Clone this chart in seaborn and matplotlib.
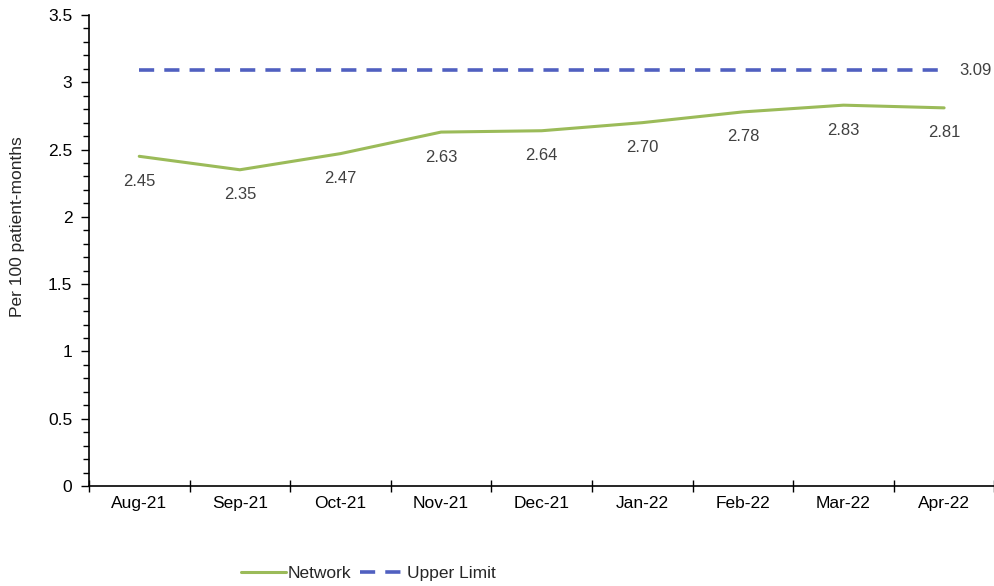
import matplotlib
matplotlib.use("Agg")
import matplotlib.pyplot as plt
import seaborn as sns
import pandas as pd
from matplotlib.ticker import MultipleLocator, FuncFormatter

months = ["Aug-21", "Sep-21", "Oct-21", "Nov-21", "Dec-21", "Jan-22", "Feb-22", "Mar-22", "Apr-22"]
network = [2.45, 2.35, 2.47, 2.63, 2.64, 2.70, 2.78, 2.83, 2.81]
upper_limit = [3.09] * 9

sns.set_theme(style="white")
plt.rcParams['font.family'] = ['Liberation Sans', 'DejaVu Sans']

df = pd.DataFrame({"pos": range(len(months)), "Network": network, "Upper Limit": upper_limit})

fig = plt.figure(figsize=(9.95, 5.86), dpi=100)
ax = fig.add_axes([0.0894, 0.1706, 0.91, 0.8038])

sns.lineplot(data=df, x="pos", y="Network", ax=ax, color="#9bbb59", linewidth=2.2, label="Network")
sns.lineplot(data=df, x="pos", y="Upper Limit", ax=ax, color="#5060c0", linewidth=2.6,
             linestyle=(0, (4.2, 2.8)), label="Upper Limit")

for i, v in enumerate(network):
    ax.annotate(f"{v:.2f}", (i, v), xytext=(0, -18), textcoords="offset points",
                ha="center", va="center", fontsize=12, color="#404040")
ax.annotate(f"{upper_limit[-1]:.2f}", (len(months) - 1, upper_limit[-1]), xytext=(11, 0),
            textcoords="offset points", ha="left", va="center", fontsize=12, color="#404040")

ax.set_xlim(-0.5, len(months) - 0.5)
ax.set_ylim(0, 3.5)
ax.yaxis.set_major_locator(MultipleLocator(0.5))
ax.yaxis.set_minor_locator(MultipleLocator(0.1))
ax.yaxis.set_major_formatter(FuncFormatter(lambda v, p: f"{v:g}"))
ax.set_xticks(range(len(months)))
ax.set_xticklabels(months)
ax.set_xticks([i + 0.5 for i in range(-1, len(months))], minor=True)
ax.tick_params(axis="x", which="major", length=0, labelsize=12.5, pad=7, colors="#000000")
ax.tick_params(axis="x", which="minor", bottom=True, length=8, direction="inout", width=1, color="#000000")
ax.tick_params(axis="y", which="major", left=True, length=6, direction="out", width=1, labelsize=12.5, colors="#000000", pad=6)
ax.tick_params(axis="y", which="minor", left=True, length=4, direction="out", width=1, color="#000000")

for s in ["top", "right"]:
    ax.spines[s].set_visible(False)
for s in ["left", "bottom"]:
    ax.spines[s].set_color("#000000")
    ax.spines[s].set_linewidth(1.2)

ax.set_xlabel("")
ax.set_ylabel("Per 100 patient-months", fontsize=12.5)
ax.yaxis.label.set_verticalalignment("center")
ax.yaxis.set_label_coords(-0.0786, 0.551)

ax.legend(loc="center", bbox_to_anchor=(0.37, 0.022), bbox_transform=fig.transFigure, ncol=2,
          frameon=False, fontsize=12.5, handlelength=2.6, handletextpad=0.1, columnspacing=0.5,
          borderpad=0, borderaxespad=0)

fig.savefig("out.png", dpi=100)
